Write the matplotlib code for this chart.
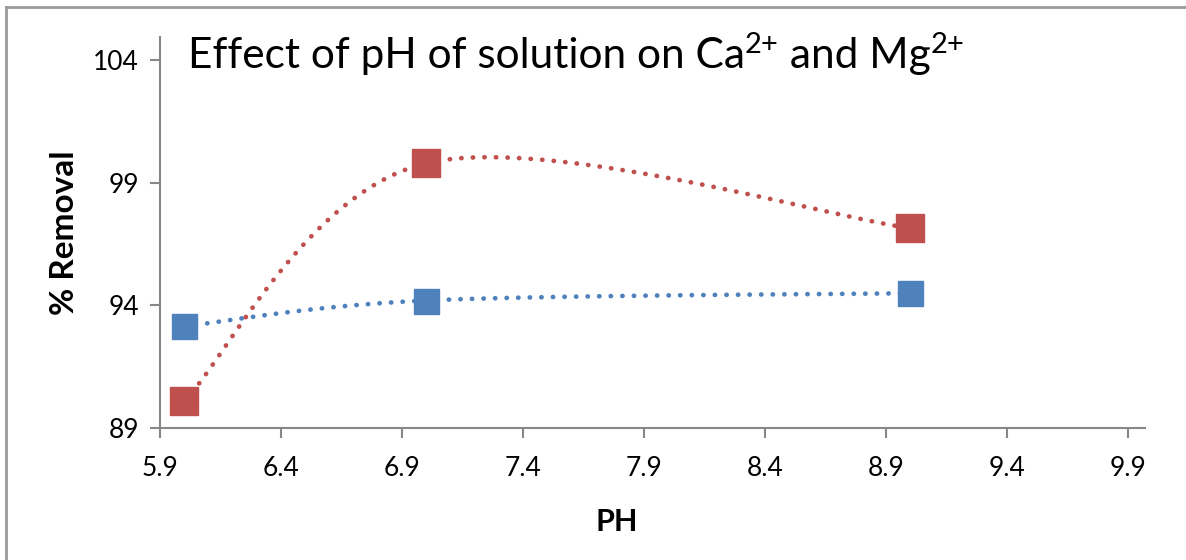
import numpy as np
import matplotlib
matplotlib.use("Agg")
import matplotlib.pyplot as plt
from matplotlib.lines import Line2D

plt.rcParams['font.family'] = ['Lato', 'DejaVu Sans']

ph = [6, 7, 9]
ca_removal = [93.15, 94.2, 94.5]
mg_removal = [90.1, 99.8, 97.15]
x_ticks = [5.9, 6.4, 6.9, 7.4, 7.9, 8.4, 8.9, 9.4, 9.9]
y_ticks = [89, 94, 99, 104]

blue = '#4F81BD'
red = '#C0504D'
grey = '#868686'


def smooth(xs, ys, n=60):
    # spreadsheet-style smoothed line: cubic Bezier through each point pair
    pts = np.column_stack([xs, ys]).astype(float)
    out = []
    for i in range(len(pts) - 1):
        p0 = pts[max(i - 1, 0)]
        p1 = pts[i]
        p2 = pts[i + 1]
        p3 = pts[min(i + 2, len(pts) - 1)]
        c1 = p1 + (p2 - p0) / 6
        c2 = p2 - (p3 - p1) / 6
        t = np.linspace(0, 1, n)[:, None]
        seg = ((1 - t) ** 3) * p1 + 3 * ((1 - t) ** 2) * t * c1 \
            + 3 * (1 - t) * t ** 2 * c2 + t ** 3 * p2
        out.append(seg if i == 0 else seg[1:])
    seg = np.vstack(out)
    return seg[:, 0], seg[:, 1]


fig = plt.figure(figsize=(11.86, 5.6), dpi=100)
ax = fig.add_axes([160 / 1186, 132 / 560, 985 / 1186, 391 / 560])

for ys, color, ms in [(ca_removal, blue, 18), (mg_removal, red, 20)]:
    sx, sy = smooth(ph, ys)
    ax.plot(sx, sy, color=color, lw=3.4, linestyle=(0, (0.05, 2.4)),
            dash_capstyle='round', zorder=2)
    ax.plot(ph, ys, linestyle='none', marker='s', ms=ms, color=color,
            markeredgecolor=color, zorder=3)

ax.set_xlim(5.9, 9.97)
ax.set_ylim(89, 104.95)
ax.set_xticks(x_ticks)
ax.set_xticklabels([f'{v:.1f}' for v in x_ticks])
ax.set_yticks(y_ticks)

for side in ['top', 'right']:
    ax.spines[side].set_visible(False)
for side in ['left', 'bottom']:
    ax.spines[side].set_color(grey)
    ax.spines[side].set_linewidth(1.5)
ax.tick_params(axis='both', direction='out', length=7, width=1.5,
               color=grey, labelsize=19, labelcolor='black')
ax.tick_params(axis='x', pad=13)
ax.tick_params(axis='y', pad=8)

ax.set_xlabel('PH', fontsize=22, fontweight='bold')
ax.xaxis.set_label_coords((617 - 160) / 985, -(522 - 428) / 391)
ax.xaxis.label.set_va('center')
ax.set_ylabel('% Removal', fontsize=24, fontweight='bold')
ax.yaxis.set_label_coords((65 - 160) / 985, (428 - 233) / 391)
ax.yaxis.label.set_va('center')

# title with superscript charges, laid out piece by piece
fig.canvas.draw()
renderer = fig.canvas.get_renderer()
pieces = [('Effect of pH of solution on Ca', False), ('2+', True),
          (' and Mg', False), ('2+', True)]
x = 188
base = 560 - 68
for s, sup in pieces:
    t = fig.text(x / 1186, (base + (15 if sup else 0)) / 560, s,
                 fontsize=21 if sup else 30.5, va='baseline', ha='left')
    x = t.get_window_extent(renderer).x1

# chart area frame
fig.add_artist(Line2D([6 / 1186, 6 / 1186], [0, 1 - 7 / 560],
                      transform=fig.transFigure, color='#9a9a9a', lw=2))
fig.add_artist(Line2D([6 / 1186, 1], [1 - 7 / 560, 1 - 7 / 560],
                      transform=fig.transFigure, color='#9a9a9a', lw=2))

fig.savefig('out.png', dpi=100, facecolor='white')
